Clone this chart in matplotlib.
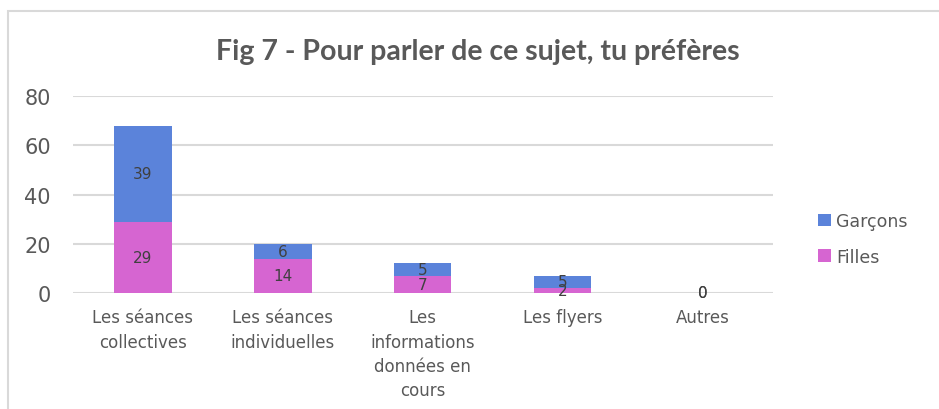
import matplotlib.pyplot as plt
from matplotlib.patches import Rectangle

categories = ["Les séances\ncollectives", "Les séances\nindividuelles",
              "Les\ninformations\ndonnées en\ncours", "Les flyers", "Autres"]
filles = [29, 14, 7, 2, 0]
garcons = [39, 6, 5, 5, 0]

BLUE = "#5B83DA"
PINK = "#D665D1"
TEXT = "#595959"
GRID = "#D9D9D9"

plt.rcParams["font.family"] = ["DejaVu Sans"]

fig = plt.figure(figsize=(9.39, 4.10), dpi=100)
ax = fig.add_axes([0.0777, 0.283, 0.745, 0.48])

x = range(len(categories))
b1 = ax.bar(x, filles, width=0.41, color=PINK, label="Filles", zorder=3)
b2 = ax.bar(x, garcons, width=0.41, bottom=filles, color=BLUE, label="Garçons", zorder=3)

# étiquettes au centre de chaque segment
for i in x:
    ax.text(i, filles[i] / 2, str(filles[i]), ha="center", va="center",
            fontsize=11, color="#404040", zorder=4)
    ax.text(i, filles[i] + garcons[i] / 2, str(garcons[i]), ha="center", va="center",
            fontsize=11, color="#404040", zorder=4)

ax.set_xlim(-0.5, len(categories) - 0.5)
ax.set_ylim(0, 80)
ax.set_yticks([0, 20, 40, 60, 80])
ax.set_xticks(list(x))
ax.set_xticklabels(categories, fontsize=12, color=TEXT, linespacing=1.45)
ax.tick_params(axis="y", length=0, pad=16, labelsize=15, labelcolor=TEXT)
ax.tick_params(axis="x", length=0, pad=11)
ax.yaxis.grid(True, color=GRID, linewidth=1.5, zorder=0)
for s in ax.spines.values():
    s.set_visible(False)

fig.text(0.509, 0.872, "Fig 7 - Pour parler de ce sujet, tu préfères",
         ha="center", va="center", fontsize=20.5, fontweight="bold", color=TEXT,
         family=["Lato", "DejaVu Sans"])

handles = [b2, b1]
fig.legend(handles, ["Garçons", "Filles"], loc="center left",
           bbox_to_anchor=(0.855, 0.415), frameon=False, fontsize=12.5,
           labelcolor=TEXT, handlelength=0.7, handleheight=0.7,
           handletextpad=0.3, labelspacing=1.0)

# cadre du graphique
fig.patches.append(Rectangle((0.009, -0.1), 1.2, 0.1 + 0.971, transform=fig.transFigure,
                             fill=False, edgecolor=GRID, linewidth=1.5))

fig.savefig("out.png", dpi=100)
